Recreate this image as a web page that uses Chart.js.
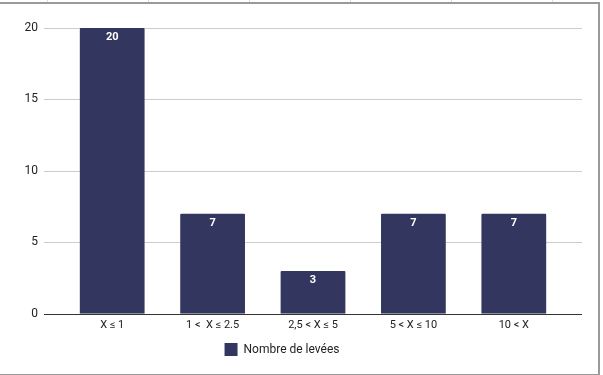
<!DOCTYPE html>
<html>
<head>
<meta charset="utf-8">
<script src="https://cdn.jsdelivr.net/npm/chart.js@4"></script>
<style>
  html, body { margin: 0; padding: 0; background: #fff; }
  #wrap { position: relative; width: 603px; height: 375px; overflow: hidden; }
  canvas { position: absolute; left: 0; top: 0; }
  .frame { position: absolute; left: 0; top: 2px; width: 598px; height: 370px;
           border-top: 2px solid #9a9a9a; border-right: 2px solid #9a9a9a; border-bottom: 2px solid #9a9a9a; }
  .cell { position: absolute; top: 0; width: 1px; height: 2px; background: #ddd; }
</style>
</head>
<body>
<div id="wrap">
  <div class="cell" style="left:47px"></div>
  <div class="cell" style="left:148px"></div>
  <div class="cell" style="left:249px"></div>
  <div class="cell" style="left:350px"></div>
  <div class="cell" style="left:451px"></div>
  <div class="cell" style="left:552px"></div>
  <div class="frame"></div>
  <canvas id="chart" width="603" height="375"></canvas>
</div>
<script>
// chart data
const categories = ['X ≤ 1', '1 <  X ≤ 2.5', '2,5 < X ≤ 5', '5 < X ≤ 10', '10 < X'];
const levees = [20, 7, 3, 7, 7];
const yTicks = [0, 5, 10, 15, 20];

const barColor = '#33375f';
const gridExtra = 18; // grid lines run past the bars on both sides

// horizontal grid + baseline, wider than the chart area
const gridPlugin = {
  id: 'wideGrid',
  beforeDatasetsDraw(chart) {
    const { ctx, chartArea, scales } = chart;
    const x0 = chartArea.left - gridExtra;
    const x1 = chartArea.right + gridExtra;
    ctx.save();
    yTicks.forEach((v) => {
      const y = Math.round(scales.y.getPixelForValue(v)) + 0.5;
      ctx.strokeStyle = v === 0 ? '#333333' : '#cccccc';
      ctx.lineWidth = 1;
      ctx.beginPath();
      ctx.moveTo(x0, y);
      ctx.lineTo(x1, y);
      ctx.stroke();
    });
    ctx.restore();
  },
};

// white values at the top of each bar
const valuePlugin = {
  id: 'barValues',
  afterDatasetsDraw(chart) {
    const { ctx } = chart;
    const meta = chart.getDatasetMeta(0);
    ctx.save();
    ctx.fillStyle = '#ffffff';
    ctx.font = 'bold 11px Roboto';
    ctx.textAlign = 'center';
    ctx.textBaseline = 'middle';
    meta.data.forEach((bar, i) => {
      ctx.fillText(String(levees[i]), bar.x, bar.y + 9);
    });
    ctx.restore();
  },
};

new Chart(document.getElementById('chart'), {
  type: 'bar',
  data: {
    labels: categories,
    datasets: [{
      label: 'Nombre de levées',
      data: levees,
      backgroundColor: barColor,
      borderRadius: 1,
      categoryPercentage: 1,
      barPercentage: 0.645,
    }],
  },
  options: {
    responsive: false,
    animation: false,
    layout: { padding: { top: 28, right: 39, left: 0, bottom: 9 } },
    plugins: {
      tooltip: { enabled: false },
      legend: {
        position: 'bottom',
        labels: {
          font: { family: 'Roboto', size: 12 },
          color: '#222',
          boxWidth: 13,
          boxHeight: 13,
          padding: 6,
        },
      },
    },
    scales: {
      x: {
        grid: { display: false, drawTicks: false },
        border: { display: false },
        ticks: { font: { family: 'Roboto', size: 11 }, color: '#222', padding: 5, maxRotation: 0 },
      },
      y: {
        min: 0,
        max: 20,
        afterFit: (scale) => {
          scale.width = 62;
          // the wide label gap should not push the plot down
          scale.paddingTop = 0;
          scale.paddingBottom = 0;
        },
        afterBuildTicks: (scale) => { scale.ticks = yTicks.map((v) => ({ value: v })); },
        grid: { display: false, drawTicks: false },
        border: { display: false },
        ticks: { font: { family: 'Roboto', size: 12 }, color: '#222', padding: 24 },
      },
    },
  },
  plugins: [gridPlugin, valuePlugin],
});
</script>
</body>
</html>
